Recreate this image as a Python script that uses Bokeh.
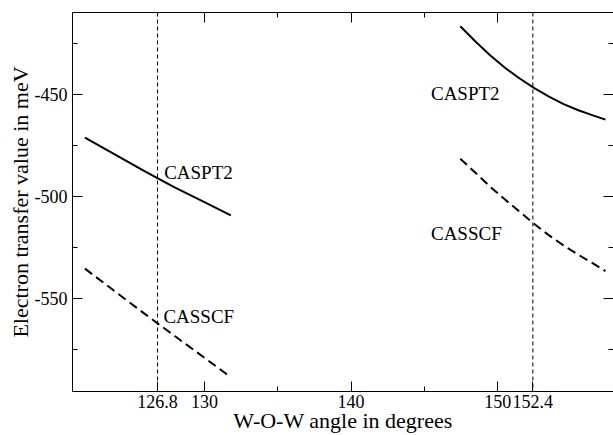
from bokeh.plotting import figure
from bokeh.models import FixedTicker, LinearAxis, Span, Range1d, ColumnDataSource
from bokeh.core.properties import value
from bokeh.embed import file_html
from bokeh.resources import INLINE

# ---- data ----
angle_left = [121.85, 124, 126, 128, 130, 131.8]
caspt2_left = [-471.2, -479.9, -488.0, -495.7, -502.8, -509.2]
casscf_left = [-535.3, -547.0, -557.8, -568.4, -578.9, -588.4]

angle_right = [147.45, 148.5, 149.5, 150.5, 151.5, 152.5, 153.5, 154.5, 155.5, 156.5, 157.35]
caspt2_right = [-416.7, -424.3, -431.0, -437.0, -442.3, -447.0, -451.2, -454.8, -457.8, -460.3, -462.4]
casscf_right = [-481.5, -488.5, -495.3, -501.5, -507.5, -513.5, -519.0, -524.0, -528.5, -532.7, -536.5]

ref_angles = [126.8, 152.4]

x_major = [130, 140, 150]
x_minor = [135, 145]
x_tick_labels = ["126.8", "130", "140", "150", "152.4"]
y_major = [-450, -500, -550]
y_minor = [-425, -475, -525, -575]
y_tick_labels = ["-450", "-500", "-550"]

label_text = ["CASPT2", "CASSCF", "CASPT2", "CASSCF"]
label_x = [127.25, 127.2, 145.45, 145.45]
label_y = [-488.2, -558.6, -449.5, -518.0]

FONT = "Liberation Serif"

p = figure(width=613, height=435,
           x_range=Range1d(121.0, 157.9), y_range=Range1d(-595.4, -410.0),
           output_backend="svg", toolbar_location=None,
           min_border_left=72, min_border_right=0,
           min_border_top=12, min_border_bottom=44)
p.xgrid.visible = False
p.ygrid.visible = False
p.outline_line_color = None
p.background_fill_color = "white"
p.border_fill_color = "white"

all_x_ticks = [ref_angles[0]] + x_major + [ref_angles[1]]


def style_axis(ax):
    ax.axis_line_color = "black"
    ax.axis_line_width = 1
    ax.major_tick_in = 10
    ax.major_tick_out = 0
    ax.minor_tick_in = 5
    ax.minor_tick_out = 0
    ax.major_tick_line_color = "black"
    ax.minor_tick_line_color = "black"
    ax.major_label_text_font = FONT
    ax.major_label_text_color = "black"
    ax.axis_label_text_font = FONT
    ax.axis_label_text_font_style = "normal"
    ax.axis_label_text_color = "black"


xa = p.xaxis[0]
xa.ticker = FixedTicker(ticks=all_x_ticks, minor_ticks=x_minor)
xa.major_label_overrides = {t: s for t, s in zip(all_x_ticks, x_tick_labels)}
style_axis(xa)
xa.major_label_text_font_size = "18px"
xa.major_label_standoff = 3
xa.axis_label = "W-O-W angle in degrees"
xa.axis_label_text_font_size = "22px"
xa.axis_label_standoff = -3

ya = p.yaxis[0]
ya.ticker = FixedTicker(ticks=y_major, minor_ticks=y_minor)
ya.major_label_overrides = {t: s for t, s in zip(y_major, y_tick_labels)}
style_axis(ya)
ya.major_label_text_font_size = "18px"
ya.major_label_standoff = 5
ya.axis_label = "Electron transfer value in meV"
ya.axis_label_text_font_size = "22px"
ya.axis_label_standoff = -1

top = LinearAxis(ticker=FixedTicker(ticks=x_major, minor_ticks=x_minor))
style_axis(top)
top.major_label_overrides = {t: "" for t in x_major}
top.major_label_text_font_size = "8px"
top.major_label_standoff = 0
p.add_layout(top, "above")

right = LinearAxis(ticker=FixedTicker(ticks=y_major, minor_ticks=y_minor))
style_axis(right)
right.axis_line_color = None
right.major_label_overrides = {t: "" for t in y_major}
right.major_label_text_font_size = "8px"
right.major_label_standoff = 0
p.add_layout(right, "right")

for a in ref_angles:
    p.add_layout(Span(location=a, dimension="height", line_color="black",
                      line_width=1, line_dash="4 3"))

p.line(angle_left, caspt2_left, line_color="black", line_width=2)
p.line(angle_left, casscf_left, line_color="black", line_width=2, line_dash="9 5")
p.line(angle_right, caspt2_right, line_color="black", line_width=2)
p.line(angle_right, casscf_right, line_color="black", line_width=2, line_dash="9 5")

src = ColumnDataSource(dict(x=label_x, y=label_y, t=label_text))
p.text(x="x", y="y", text="t", source=src, text_font=value(FONT),
       text_font_size="19px", text_baseline="middle", text_align="left",
       text_color="black")

open("out.html", "w").write(file_html(p, INLINE))
